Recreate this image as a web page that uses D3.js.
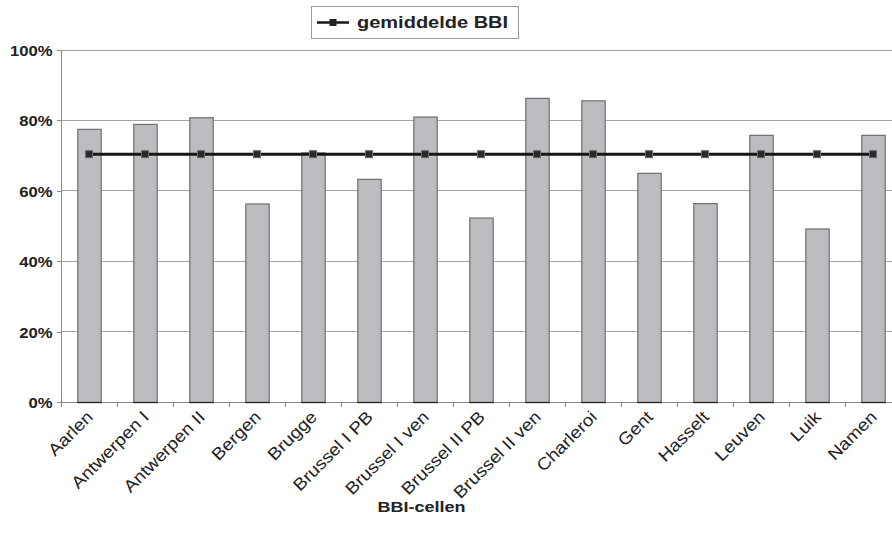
<!DOCTYPE html>
<html>
<head>
<meta charset="utf-8">
<script src="https://cdn.jsdelivr.net/npm/d3@7"></script>
<style>
  html, body { margin: 0; padding: 0; background: #fff; }
  svg { display: block; }
  text { font-family: "Liberation Sans", Arial, Helvetica, sans-serif; fill: #222; }
</style>
</head>
<body>
<svg id="chart" width="892" height="541"></svg>
<script>
// BBI cells and their scores (percent)
const categories = ["Aarlen", "Antwerpen I", "Antwerpen II", "Bergen", "Brugge",
  "Brussel I PB", "Brussel I ven", "Brussel II PB", "Brussel II ven", "Charleroi",
  "Gent", "Hasselt", "Leuven", "Luik", "Namen"];
const scores = [77.6, 79.0, 80.9, 56.4, 70.9, 63.4, 81.1, 52.4, 86.4, 85.7,
  65.1, 56.5, 75.9, 49.3, 75.9];
// average BBI, one value per cell
const average = [70.4, 70.4, 70.4, 70.4, 70.4, 70.4, 70.4, 70.4, 70.4, 70.4,
  70.4, 70.4, 70.4, 70.4, 70.4];
const yTicks = [0, 20, 40, 60, 80, 100];
const legendLabel = "gemiddelde BBI";
const xTitle = "BBI-cellen";

const svg = d3.select("#chart");
const plot = { left: 61, right: 901, top: 50, bottom: 402 };

const x = d3.scaleBand().domain(categories).range([plot.left, plot.right])
  .paddingInner(0.583).paddingOuter(0.2915);
const xBand = d3.scaleBand().domain(categories).range([plot.left, plot.right]);
const y = d3.scaleLinear().domain([0, 100]).range([plot.bottom, plot.top]);

// gridlines
svg.append("g").selectAll("line").data(yTicks.filter(d => d > 0)).join("line")
  .attr("x1", plot.left).attr("x2", plot.right)
  .attr("y1", d => y(d)).attr("y2", d => y(d))
  .attr("stroke", "#a3a3a3").attr("stroke-width", 1)
  .attr("shape-rendering", "crispEdges");

// y axis
const yAxis = svg.append("g").attr("transform", `translate(${plot.left},0)`)
  .call(d3.axisLeft(y).tickValues(yTicks).tickSize(4).tickFormat(d => d + "%"));
yAxis.select(".domain").attr("stroke", "#8a8a8a").attr("shape-rendering", "crispEdges");
yAxis.selectAll(".tick line").attr("stroke", "#8a8a8a").attr("shape-rendering", "crispEdges");
yAxis.selectAll(".tick text")
  .attr("x", null).attr("dy", null)
  .attr("font-size", 15).attr("font-weight", "bold")
  .attr("font-family", "Liberation Sans, Arial, sans-serif")
  .attr("fill", "#222")
  .attr("text-anchor", "end")
  .attr("transform", "translate(-8.5,5.4) scale(1.11,1)");

// bars
svg.append("g").selectAll("rect").data(categories).join("rect")
  .attr("x", d => x(d) + 0.5)
  .attr("y", (d, i) => y(scores[i]) + 0.5)
  .attr("width", x.bandwidth())
  .attr("height", (d, i) => y(0) - y(scores[i]))
  .attr("fill", "#bcbdc1")
  .attr("stroke", "#6e6e6e").attr("stroke-width", 1.2);

// x axis
const xAxis = svg.append("g").attr("transform", `translate(0,${plot.bottom})`);
xAxis.append("line").attr("x1", plot.left).attr("x2", plot.right)
  .attr("y1", 0.5).attr("y2", 0.5).attr("stroke", "#8a8a8a");
xAxis.selectAll("line.tk").data(categories.concat(["__end"])).join("line")
  .attr("class", "tk")
  .attr("x1", (d, i) => plot.left + i * xBand.bandwidth() + 0.5)
  .attr("x2", (d, i) => plot.left + i * xBand.bandwidth() + 0.5)
  .attr("y1", 0).attr("y2", 5).attr("stroke", "#8a8a8a");
xAxis.selectAll("line.base").data(categories).join("line")
  .attr("class", "base")
  .attr("x1", d => x(d)).attr("x2", d => x(d) + x.bandwidth() + 1)
  .attr("y1", 0.5).attr("y2", 0.5).attr("stroke", "#222").attr("stroke-width", 1.2);

// category labels, rotated 45 degrees
svg.append("g").selectAll("text").data(categories).join("text")
  .attr("text-anchor", "end")
  .attr("font-size", 17)
  .attr("transform", d => `translate(${xBand(d) + xBand.bandwidth() / 2 + 5},${plot.bottom + 16}) rotate(-45) scale(1.12,1)`)
  .text(d => d);

// average line
const line = d3.line()
  .x((d, i) => xBand(categories[i]) + xBand.bandwidth() / 2)
  .y(d => y(d));
svg.append("path").datum(average)
  .attr("d", line).attr("fill", "none")
  .attr("stroke", "#161616").attr("stroke-width", 3);
svg.append("g").selectAll("rect").data(average).join("rect")
  .attr("x", (d, i) => xBand(categories[i]) + xBand.bandwidth() / 2 - 3.5)
  .attr("y", d => y(d) - 3.5)
  .attr("width", 7).attr("height", 7)
  .attr("fill", "#2a2a2a").attr("stroke", "#6a6a6a").attr("stroke-width", 1);

// x axis title
svg.append("text")
  .attr("text-anchor", "middle")
  .attr("font-size", 15).attr("font-weight", "bold")
  .attr("transform", "translate(421.5,512) scale(1.2,1)")
  .text(xTitle);

// legend
const lg = svg.append("g");
lg.append("rect").attr("x", 311.5).attr("y", 6.5).attr("width", 207).attr("height", 32)
  .attr("fill", "#fff").attr("stroke", "#9a9a9a").attr("stroke-width", 1);
lg.append("line").attr("x1", 317).attr("x2", 349).attr("y1", 22.5).attr("y2", 22.5)
  .attr("stroke", "#161616").attr("stroke-width", 2.5);
lg.append("rect").attr("x", 329.5).attr("y", 19).attr("width", 7).attr("height", 7)
  .attr("fill", "#222");
lg.append("text")
  .attr("font-size", 16).attr("font-weight", "bold")
  .attr("transform", "translate(357,27.5) scale(1.25,1)")
  .text(legendLabel);
</script>
</body>
</html>
